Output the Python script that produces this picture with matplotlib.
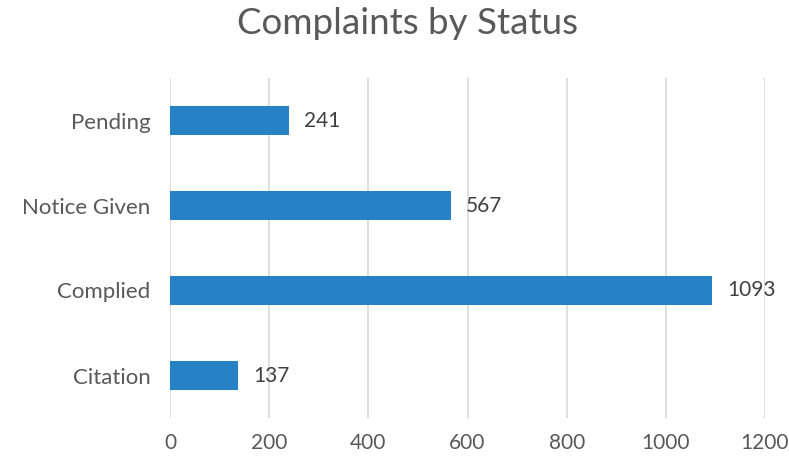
import matplotlib
matplotlib.use("Agg")
import matplotlib.pyplot as plt

categories = ["Citation", "Complied", "Notice Given", "Pending"]
values = [137, 1093, 567, 241]
xticks = [0, 200, 400, 600, 800, 1000, 1200]

plt.rcParams['font.family'] = ['Lato', 'DejaVu Sans']

fig = plt.figure(figsize=(7.89, 4.59), dpi=100)
ax = fig.add_axes([170/789, 1-418/459, 595/789, 340/459])

ypos = list(range(len(categories)))
ax.barh(ypos, values, height=0.35, color="#2681C5", zorder=3)
for y, v in zip(ypos, values):
    ax.text(v + 30, y, str(v), va="center", ha="left", fontsize=15, color="#404040")

ax.set_xlim(0, 1200)
ax.set_ylim(-0.5, 3.5)
ax.set_xticks(xticks)
ax.set_xticklabels([str(t) for t in xticks])
ax.set_yticks(ypos)
ax.set_yticklabels(categories)
ax.tick_params(axis="both", length=0, labelcolor="#595959")
ax.tick_params(axis="x", pad=11, labelsize=15)
ax.tick_params(axis="y", pad=14, labelsize=16)
ax.grid(axis="x", color="#D9D9D9", linewidth=1.2, zorder=0)
for s in ax.spines.values():
    s.set_visible(False)

fig.text(407/789, 1-24/459, "Complaints by Status", ha="center", va="center",
         fontsize=26.5, color="#595959")

fig.savefig("out.png", dpi=100)
